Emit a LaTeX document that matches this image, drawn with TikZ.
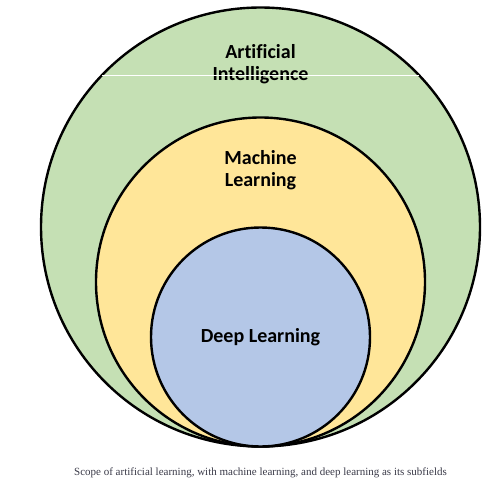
\documentclass[tikz,border=0pt]{standalone}
\usepackage{fontspec}
\setmainfont{Liberation Serif}
\newfontfamily\fieldfont[Ligatures=NoCommon]{Carlito}
\usetikzlibrary{positioning}
\definecolor{aigreen}{HTML}{C5E0B4}
\definecolor{mlyellow}{HTML}{FFE699}
\definecolor{dlblue}{HTML}{B4C7E7}
\definecolor{captiongray}{HTML}{3A3A48}
\tikzset{
  field/.style={ % one field of study, drawn as a circle resting on the base
    circle, draw=black, line width=2.4pt,
    inner sep=0pt, outer sep=0pt, anchor=south
  },
  fieldname/.style={ % bold name written inside a field
    font=\fieldfont\bfseries\fontsize{20}{22}\selectfont,
    align=center, text=black, inner sep=0pt
  },
  caption/.style={
    font=\fontsize{11}{13}\selectfont, text=captiongray, inner sep=0pt
  }
}
\begin{document}
\begin{tikzpicture}[x=1pt, y=-1pt]
    \useasboundingbox (0,0) rectangle (492,481);

    \coordinate (base) at (260.5,446.5);
    \node[field, fill=aigreen, minimum size=439pt] (ai) at (base) {};
    \node[field, fill=mlyellow, minimum size=329pt] (ml) at (base) {};
    \node[field, fill=dlblue, minimum size=219pt] (dl) at (base) {};

    \node[fieldname] (ai_label) [below=36.5pt of ai.north] {Artificial\\Intelligence};
    \node[fieldname] (ml_label) [below=33pt of ml.north] {Machine\\Learning};
    \node[fieldname] (dl_label) at (dl.center) {Deep Learning};

    % thin white scan line across the outer circle, over the text
    \draw[white, line width=0.7pt] (102,75.5) -- (419,75.5);

    \node[caption] (cap) [below=21pt of ai.south] {Scope of artificial learning, with machine learning, and deep learning as its subfields};
  \end{tikzpicture}
\end{document}
